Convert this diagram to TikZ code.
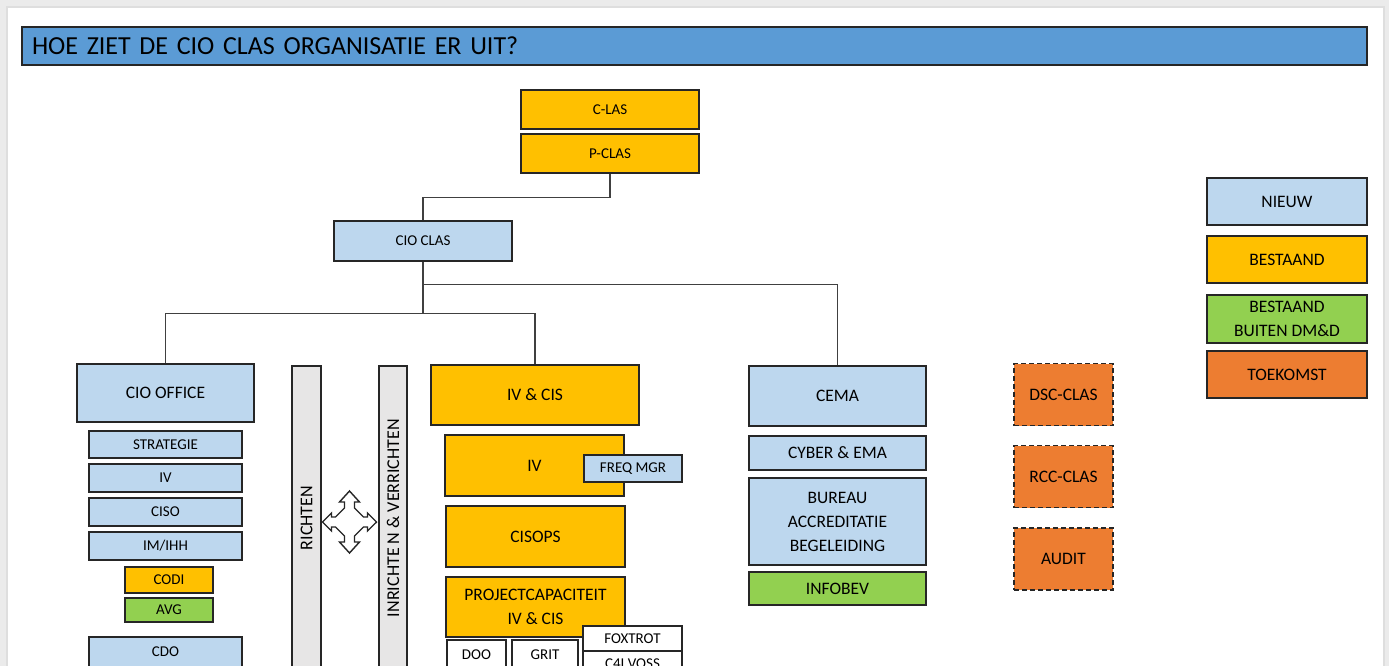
\documentclass[tikz,border=0pt]{standalone}
\usepackage{fontspec}
\setmainfont{Carlito}
\newfontfamily\titelfont[WordSpace=0.8]{Carlito}
\usepackage{tikz}

\definecolor{titelblauw}{HTML}{5B9BD5}
\definecolor{nieuwblauw}{HTML}{BDD7EE}
\definecolor{bestaandgeel}{HTML}{FFC000}
\definecolor{buitengroen}{HTML}{92D050}
\definecolor{toekomstoranje}{HTML}{ED7D31}
\definecolor{balkgrijs}{HTML}{E7E6E6}
\definecolor{rand}{HTML}{262626}

\tikzset{
  blok/.style={draw=rand, line width=1.6pt, inner sep=1pt, align=center, text=black,
    font=\fontsize{15}{23.5}\selectfont},
  groot/.style={font=\fontsize{17.5}{24}\selectfont},
  maat/.style 2 args={minimum width=#1pt, minimum height=#2pt},
  nieuw/.style={blok, fill=nieuwblauw},
  bestaand/.style={blok, fill=bestaandgeel},
  buiten/.style={blok, fill=buitengroen},
  toekomst/.style={blok, fill=toekomstoranje},
  balk/.style={blok, fill=balkgrijs, font=\fontsize{18}{22}\selectfont, rotate=90},
  lijn/.style={draw=black!75, line width=1.3pt},
}

\begin{document}
\begin{tikzpicture}[x=1pt, y=-1pt]
      \useasboundingbox (0, 0) rectangle (1389, 666);
      \fill[black!8] (0, 0) rectangle (1389, 666);
      \fill[black!13] (6, 6) rectangle (1385, 680);
      \fill[white] (8, 8) rectangle (1383, 680);

      \node[draw=rand, line width=1.4pt, fill=titelblauw, minimum height=38pt, text width=1325pt,
        inner xsep=10pt, align=left, text=black, font=\titelfont\fontsize{26}{30}\selectfont]
        (titel) at (694.5, 46) {HOE ZIET DE CIO CLAS ORGANISATIE ER UIT?};

      \node[bestaand, maat={178}{39}] (clas) at (610, 109.5) {C-LAS};
      \node[bestaand, maat={178}{39}] (pclas) at (610, 153.5) {P-CLAS};
      \node[nieuw, maat={178}{40}] (cioclas) at (423, 241) {CIO CLAS};

      \node[nieuw, groot, maat={177}{58}] (ciooffice) at (165.5, 393) {CIO OFFICE};
      \node[nieuw, maat={153}{27}] (strategie) at (165.5, 444.5) {STRATEGIE};
      \node[nieuw, maat={153}{28}] (ivlinks) at (165.5, 478) {IV};
      \node[nieuw, maat={153}{28}] (ciso) at (165.5, 512) {CISO};
      \node[nieuw, maat={153}{28}] (imihh) at (165.5, 546) {IM/IHH};
      \node[bestaand, maat={88}{26}] (codi) at (169, 580) {CODI};
      \node[buiten, maat={88}{24}] (avg) at (169, 610) {AVG};
      \node[nieuw, maat={153}{30}] (cdo) at (165.5, 652) {CDO};

      \node[balk, maat={304}{29}] (richten) at (306.5, 518) {RICHTEN};
      \node[balk, maat={304}{28}] (inrichten) at (393, 518) {INRICHTE N \& VERRICHTEN};
      \draw[line width=1.4pt, draw=rand, fill=white, line join=miter, shift={(349.5, 522)}]
        (0, -31) -- (10, -20) -- (5, -20) -- (5, -14) -- (14, -5) -- (18, -5) -- (18, -9)
        -- (27, 0) -- (18, 9) -- (18, 5) -- (14, 5) -- (5, 14) -- (5, 20) -- (10, 20)
        -- (0, 31) -- (-10, 20) -- (-5, 20) -- (-5, 14) -- (-14, 5) -- (-18, 5) -- (-18, 9)
        -- (-27, 0) -- (-18, -9) -- (-18, -5) -- (-14, -5) -- (-5, -14) -- (-5, -20)
        -- (-10, -20) -- cycle;

      \node[bestaand, groot, maat={208}{60}] (ivcis) at (535, 395) {IV \& CIS};
      \node[bestaand, groot, maat={179}{61}] (iv) at (534.5, 465.5) {IV};
      \node[nieuw, maat={98}{27}] (freqmgr) at (633, 468.5) {FREQ MGR};
      \node[bestaand, groot, maat={179}{61}] (cisops) at (535.5, 536.5) {CISOPS};
      \node[bestaand, groot, maat={179}{60}] (projectcap) at (535.5, 607) {PROJECTCAPACITEIT\\IV \& CIS};
      \node[blok, fill=white, maat={99}{25}] (foxtrot) at (632.5, 638.5) {FOXTROT};
      \node[blok, fill=white, maat={99}{26}] (voss) at (632.5, 664) {C4I VOSS};
      \node[blok, fill=white, maat={59}{30}] (doo) at (476.5, 655) {DOO};
      \node[blok, fill=white, maat={66}{30}] (grit) at (545, 655) {GRIT};

      \node[nieuw, groot, maat={177}{60}] (cema) at (837.5, 396) {CEMA};
      \node[nieuw, groot, maat={177}{34}] (cyber) at (837.5, 453) {CYBER \& EMA};
      \node[nieuw, groot, maat={177}{87}] (bureau) at (837.5, 521.5) {BUREAU\\ACCREDITATIE\\BEGELEIDING};
      \node[buiten, groot, maat={177}{33}] (infobev) at (837.5, 588.5) {INFOBEV};

      \foreach \t/\y [count=\i] in {DSC-CLAS/394.5, RCC-CLAS/476.5, AUDIT/559} {
        \node[toekomst, groot, dashed, dash pattern=on 5pt off 3pt, maat={99}{62}] (toek\i) at (1063.5, \y) {\t};
      }

      \node[nieuw, groot, maat={160}{47}] (legnieuw) at (1287, 201.5) {NIEUW};
      \node[bestaand, groot, maat={160}{47}] (legbestaand) at (1287, 259.5) {BESTAAND};
      \node[buiten, groot, maat={160}{48}] (legbuiten) at (1287, 319) {BESTAAND\\BUITEN DM\&D};
      \node[toekomst, groot, maat={160}{47}] (legtoekomst) at (1287, 374.5) {TOEKOMST};

      \draw[lijn] (pclas.south) -- ++(0, 24) -| (cioclas.north);
      \draw[lijn] (cioclas.south) -- ++(0, 23) -| (cema.north);
      \draw[lijn] (cioclas.south) -- ++(0, 52) -| (ciooffice.north);
      \draw[lijn] (cioclas.south) -- ++(0, 52) -| (ivcis.north);
    \end{tikzpicture}
\end{document}
